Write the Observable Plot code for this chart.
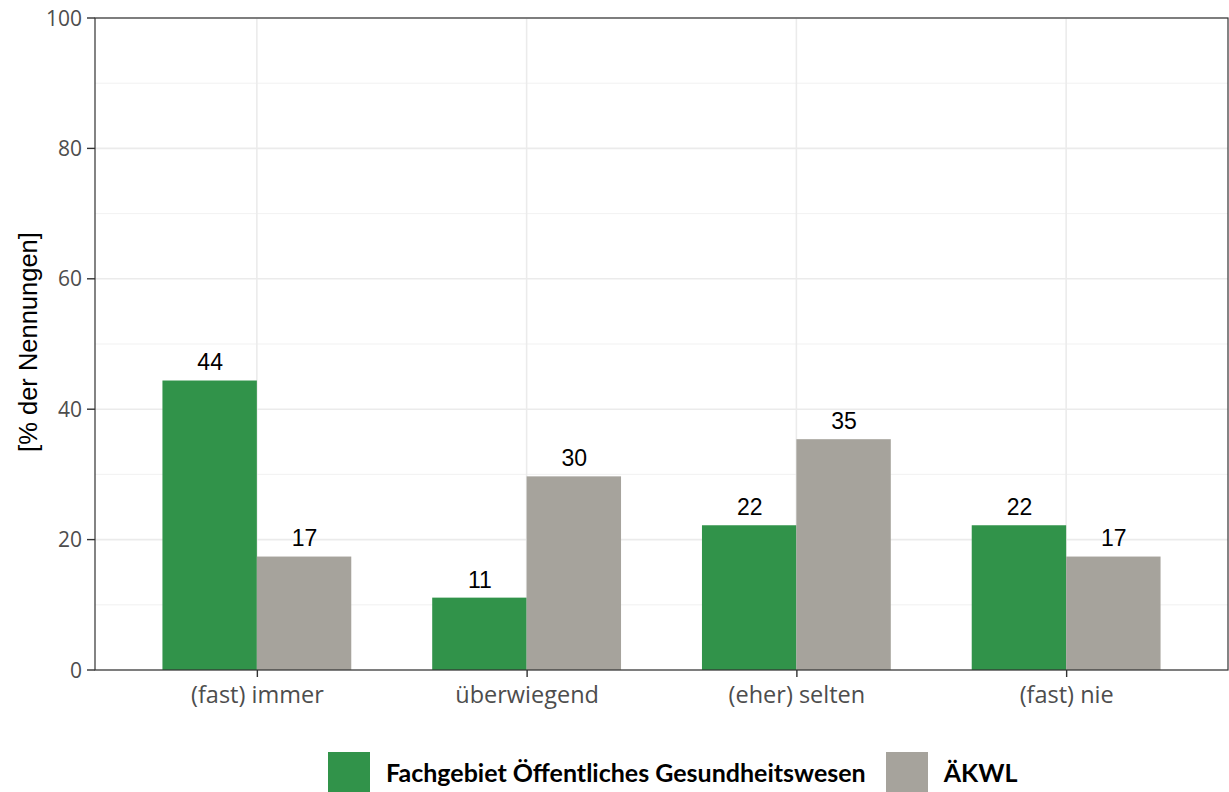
<!DOCTYPE html>
<html><head><meta charset="utf-8">
<script src="https://cdn.jsdelivr.net/npm/d3@7"></script>
<script src="https://cdn.jsdelivr.net/npm/@observablehq/plot@0.6"></script>
<style>
body{margin:0;background:#fff;font-family:"Open Sans",sans-serif;width:1229px;height:792px;overflow:hidden}
#legend{display:flex;align-items:center;height:40px;margin-top:37px;padding-left:328px}
.sw{width:42px;height:40px;display:inline-block;flex:none}
.lt{font-family:Lato,sans-serif;font-weight:700;font-size:25px;color:#000;margin-left:16px;margin-right:20px;white-space:nowrap}
</style></head>
<body><div id="chart"></div><div id="legend"></div>
<script>
const categories = ["(fast) immer", "überwiegend", "(eher) selten", "(fast) nie"];
const series = ["Fachgebiet Öffentliches Gesundheitswesen", "ÄKWL"];
const valuesFach = [44.4, 11.1, 22.2, 22.2];
const valuesAekwl = [17.4, 29.7, 35.4, 17.4];
const colors = ["#31934a", "#a6a39c"];
const yTicks = [0, 20, 40, 60, 80, 100];
const yMinor = [10, 30, 50, 70, 90];
const yTitle = "[% der Nennungen]";

const data = categories.flatMap((c, i) => [
  {cat: c, ser: series[0], v: valuesFach[i]},
  {cat: c, ser: series[1], v: valuesAekwl[i]}
]);

const plot = Plot.plot({
  width: 1229, height: 715,
  marginLeft: 95, marginRight: 1, marginTop: 18, marginBottom: 45,
  style: {fontFamily: "Open Sans", fontSize: "21px", color: "#4d4d4d", background: "white"},
  fx: {domain: categories, paddingInner: 0, paddingOuter: 0.1, round: false, label: null},
  x: {domain: series, paddingInner: 0, paddingOuter: 0.4286, round: false, axis: null},
  y: {domain: [0, 100], axis: null},
  color: {domain: series, range: colors},
  marks: [
    Plot.barY(data, {fx: "cat", x: "ser", y: "v", fill: "ser"}),
    Plot.text(data, {fx: "cat", x: "ser", y: "v", text: d => String(Math.round(d.v)), dy: -18,
      fill: "black", fontFamily: "Liberation Sans", fontSize: 23}),
    Plot.axisFx({anchor: "bottom", tickSize: 7, tickPadding: 9, stroke: "#333", strokeWidth: 1.4,
      fill: "#4d4d4d", fontSize: 23.5, fontFamily: "Open Sans", label: null})
  ]
});
document.getElementById("chart").appendChild(plot);

const svg = d3.select(plot);
const y = plot.scale("y"), fx = plot.scale("fx");
const x0 = 95, x1 = 1229 - 1, yTop = y.apply(100), yBot = y.apply(0);
const g = svg.insert("g", ":scope > g");
g.selectAll("line.minor").data(yMinor).join("line")
  .attr("x1", x0).attr("x2", x1).attr("y1", d => y.apply(d)).attr("y2", d => y.apply(d))
  .attr("stroke", "#ededed").attr("stroke-width", 0.8);
g.selectAll("line.major").data(yTicks).join("line")
  .attr("x1", x0).attr("x2", x1).attr("y1", d => y.apply(d)).attr("y2", d => y.apply(d))
  .attr("stroke", "#ebebeb").attr("stroke-width", 1.6);
g.selectAll("line.v").data(categories).join("line")
  .attr("x1", d => fx.apply(d) + fx.bandwidth / 2).attr("x2", d => fx.apply(d) + fx.bandwidth / 2)
  .attr("y1", yTop).attr("y2", yBot)
  .attr("stroke", "#ebebeb").attr("stroke-width", 1.6);
svg.append("rect").attr("x", x0).attr("y", yTop).attr("width", x1 - x0).attr("height", yBot - yTop)
  .attr("fill", "none").attr("stroke", "#333").attr("stroke-width", 1.2);

const ya = svg.append("g");
ya.selectAll("line").data(yTicks).join("line")
  .attr("x1", x0 - 8).attr("x2", x0).attr("y1", d => y.apply(d)).attr("y2", d => y.apply(d))
  .attr("stroke", "#333").attr("stroke-width", 1.4);
ya.selectAll("text").data(yTicks).join("text")
  .attr("x", x0 - 13).attr("y", d => y.apply(d)).attr("dy", "0.36em")
  .attr("text-anchor", "end").attr("fill", "#4d4d4d")
  .style("font-family", "Open Sans").style("font-size", "21px").text(d => d);
svg.append("text")
  .attr("transform", `translate(37,${(yTop + yBot) / 2 - 2}) rotate(-90)`)
  .attr("text-anchor", "middle").attr("fill", "#000")
  .style("font-family", "Liberation Sans").style("font-size", "25.5px").text(yTitle);

const leg = d3.select("#legend");
series.forEach((s, i) => {
  leg.append("span").attr("class", "sw").style("background", colors[i]);
  leg.append("span").attr("class", "lt").text(s);
});
</script>
</body></html>
